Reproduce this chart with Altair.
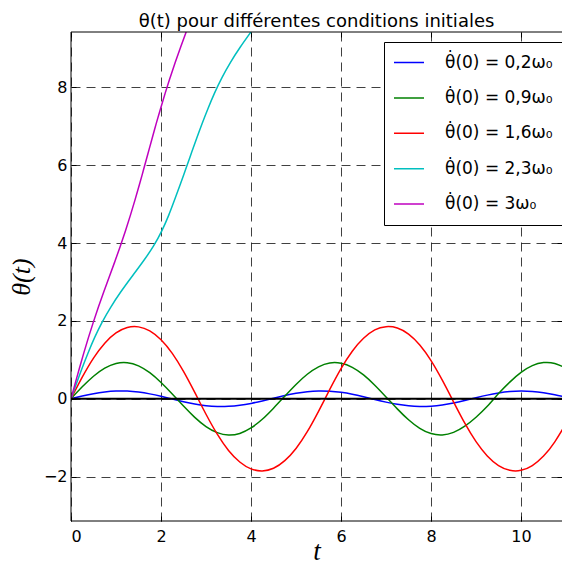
import altair as alt
import pandas as pd

# --- data ---
t_osc = [0.0, 0.25, 0.5, 0.75, 1.0, 1.25, 1.5, 1.75, 2.0, 2.25, 2.5, 2.75, 3.0, 3.25, 3.5, 3.75,
         4.0, 4.25, 4.5, 4.75, 5.0, 5.25, 5.5, 5.75, 6.0, 6.25, 6.5, 6.75, 7.0, 7.25, 7.5, 7.75,
         8.0, 8.25, 8.5, 8.75, 9.0, 9.25, 9.5, 9.75, 10.0, 10.25, 10.5, 10.75, 11.0, 11.1]

theta_02 = [0, 0.069, 0.130, 0.174, 0.198, 0.197, 0.171, 0.125, 0.063, -0.007, -0.075, -0.135,
            -0.178, -0.199, -0.195, -0.168, -0.120, -0.057, 0.013, 0.081, 0.139, 0.181, 0.200,
            0.193, 0.164, 0.115, 0.050, -0.020, -0.087, -0.144, -0.183, -0.200, -0.191, -0.160,
            -0.110, -0.044, 0.026, 0.093, 0.148, 0.186, 0.200, 0.189, 0.156, 0.105, 0.038, 0.011]

theta_09 = [0, 0.306, 0.579, 0.787, 0.908, 0.928, 0.846, 0.670, 0.418, 0.123, -0.188, -0.478,
            -0.715, -0.871, -0.933, -0.892, -0.750, -0.528, -0.243, 0.066, 0.368, 0.630, 0.821,
            0.919, 0.912, 0.808, 0.613, 0.349, 0.047, -0.260, -0.540, -0.760, -0.895, -0.930,
            -0.863, -0.704, -0.474, -0.195, 0.132, 0.428, 0.676, 0.850, 0.929, 0.906, 0.782, 0.707]

theta_16 = [0, 0.553, 1.043, 1.427, 1.690, 1.830, 1.847, 1.745, 1.516, 1.166, 0.703, 0.162,
            -0.398, -0.911, -1.329, -1.625, -1.802, -1.854, -1.786, -1.590, -1.277, -0.846, -0.322,
            0.239, 0.773, 1.222, 1.553, 1.771, 1.852, 1.818, 1.662, 1.382, 0.981, 0.479, -0.078,
            -0.627, -1.102, -1.469, -1.717, -1.839, -1.840, -1.718, -1.473, -1.107, -0.633, -0.418]

t_23 = [0, 0.122, 0.246, 0.379, 0.524, 0.690, 0.885, 1.108, 1.355, 1.605, 1.835, 2.020, 2.170,
        2.300, 2.425, 2.546, 2.666, 2.787, 2.912, 3.045, 3.189, 3.352, 3.541, 3.759, 3.998]
theta_23 = [0, 0.393, 0.785, 1.178, 1.571, 1.963, 2.356, 2.749, 3.142, 3.534, 3.927, 4.320, 4.712,
            5.105, 5.498, 5.890, 6.283, 6.676, 7.069, 7.461, 7.854, 8.247, 8.639, 9.032, 9.425]

t_30 = [0, 0.093, 0.187, 0.285, 0.387, 0.495, 0.609, 0.729, 0.853, 0.977, 1.097, 1.211, 1.319,
        1.421, 1.519, 1.613, 1.706, 1.799, 1.893, 1.991, 2.093, 2.201, 2.315, 2.435, 2.559]
theta_30 = [0, 0.393, 0.785, 1.178, 1.571, 1.963, 2.356, 2.749, 3.142, 3.534, 3.927, 4.320, 4.712,
            5.105, 5.498, 5.890, 6.283, 6.676, 7.069, 7.461, 7.854, 8.247, 8.639, 9.032, 9.425]

labels = ["θ̇(0) = 0,2ω₀", "θ̇(0) = 0,9ω₀", "θ̇(0) = 1,6ω₀", "θ̇(0) = 2,3ω₀", "θ̇(0) = 3ω₀"]
colors = ["#0000ff", "#008000", "#ff0000", "#00bfbf", "#bf00bf"]

x_ticks = [0, 2, 4, 6, 8, 10]
y_ticks = [-2, 0, 2, 4, 6, 8]
x_domain = [0, 10.91]
y_domain = [-3.1416, 9.4248]

series = [
    (labels[0], t_osc, theta_02),
    (labels[1], t_osc, theta_09),
    (labels[2], t_osc, theta_16),
    (labels[3], t_23, theta_23),
    (labels[4], t_30, theta_30),
]
rows = []
for lab, ts, ths in series:
    for a, b in zip(ts, ths):
        rows.append({"t": a, "theta": b, "serie": lab})
df = pd.DataFrame(rows)

xs = alt.Scale(domain=x_domain, nice=False, zero=False)
ys = alt.Scale(domain=y_domain, nice=False, zero=False)

common = dict(offset=-5, tickSize=5, domain=False, tickColor="black", tickWidth=1,
              labelFont="DejaVu Sans", labelFontSize=16, labelColor="black")
grid = dict(grid=True, gridColor="black", gridDash=[9, 6], gridOpacity=0.75, gridWidth=1)

lines = alt.Chart(df).mark_line(strokeWidth=1.5, clip=True, interpolate="natural").encode(
    x=alt.X("t:Q", scale=xs, axis=alt.Axis(
        orient="bottom", values=x_ticks, format="d", labelPadding=7,
        title="t", titleFont="Liberation Serif", titleFontStyle="italic", titleFontWeight="normal",
        titleFontSize=27, titleColor="black", titleBaseline="alphabetic", titleY=43,
        **grid, **common)),
    y=alt.Y("theta:Q", scale=ys, axis=alt.Axis(
        orient="left", values=y_ticks, format="d", labelPadding=4,
        title="θ(t)", titleFont="Liberation Serif", titleFontStyle="italic", titleFontWeight="normal",
        titleFontSize=26, titleColor="black", titleBaseline="alphabetic", titleAngle=270,
        titleX=-47, **grid, **common)),
    color=alt.Color("serie:N", scale=alt.Scale(domain=labels, range=colors),
                    legend=alt.Legend(orient="none", legendX=313, legendY=10, title=None,
                                      symbolType="stroke", symbolSize=900, symbolStrokeWidth=1.5,
                                      labelFont="DejaVu Sans", labelFontSize=17,
                                      labelColor="black", labelOffset=20, labelLimit=0,
                                      padding=9, rowPadding=12.4, clipHeight=23,
                                      strokeColor="black", fillColor="white", cornerRadius=0)),
)

zero = alt.Chart(pd.DataFrame({"z": [0]})).mark_rule(color="black", strokeWidth=2).encode(
    y=alt.YDatum(0, scale=ys, axis=None)
)

# frame on the left, top and bottom (the reference's right side is cut off)
frame_left = alt.Chart(pd.DataFrame({"z": [0]})).mark_rule(color="black", strokeWidth=1).encode(
    x=alt.XDatum(x_domain[0], scale=xs, axis=None)
)
frame_top = alt.Chart(pd.DataFrame({"z": [0]})).mark_rule(color="black", strokeWidth=1).encode(
    y=alt.YDatum(y_domain[1], scale=ys, axis=None)
)
frame_bottom = alt.Chart(pd.DataFrame({"z": [0]})).mark_rule(color="black", strokeWidth=1).encode(
    y=alt.YDatum(y_domain[0], scale=ys, axis=None)
)

frame_ticks = alt.Chart(df).mark_point(opacity=0).encode(
    x=alt.X("t:Q", scale=xs, axis=alt.Axis(orient="top", values=x_ticks, labels=False, title=None,
                                           grid=False, offset=-5, tickSize=5, domain=False,
                                           tickColor="black", tickWidth=1)),
    y=alt.Y("theta:Q", scale=ys, axis=alt.Axis(orient="right", values=y_ticks, labels=False, title=None,
                                               grid=False, offset=-5, tickSize=5, domain=False,
                                               tickColor="black", tickWidth=1)),
)

chart = alt.layer(lines, zero, frame_left, frame_top, frame_bottom, frame_ticks).resolve_axis(
    x="independent", y="independent"
).properties(
    width=491, height=489,
    autosize="none",
    padding={"left": 63, "top": 24, "right": 0, "bottom": 44},
    title=alt.Title("θ(t) pour différentes conditions initiales", font="DejaVu Sans", fontSize=18,
                    fontWeight="normal", anchor="middle", frame="group", baseline="alphabetic",
                    offset=6, dy=22, color="black"),
).configure_view(stroke=None)

chart.save("out.html", embed_options={"renderer": "svg", "actions": False})
